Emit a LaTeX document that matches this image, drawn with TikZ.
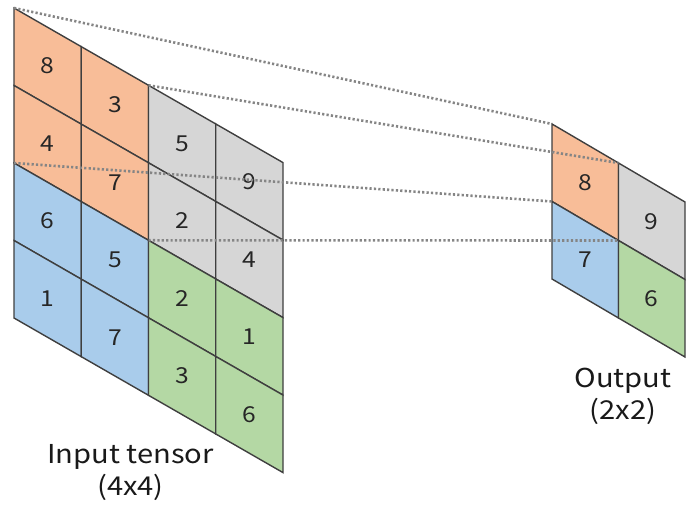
\documentclass[tikz,border=0pt]{standalone}
\usepackage{fontspec}
\setmainfont{Noto Sans CJK JP}[FakeStretch=1.12]
\definecolor{cOrange}{HTML}{F8BD98}
\definecolor{cGray}{HTML}{D6D6D6}
\definecolor{cBlue}{HTML}{A9CCEB}
\definecolor{cGreen}{HTML}{B4D8A4}
\definecolor{cLine}{HTML}{3F3F3F}
\definecolor{cDot}{HTML}{858585}
\tikzset{
  cellline/.style={draw=cLine, line width=1.4pt, line join=miter},
  digit/.style={font=\fontsize{22}{22}\selectfont, text=black!85, inner sep=0pt},
  guide/.style={draw=cDot, line width=2.6pt, dash pattern=on 2.2pt off 2.2pt},
  caption/.style={font=\fontsize{26}{32}\selectfont, align=center, text=black!90, inner sep=0pt}
}
\newcommand{\mpcell}[4]{%
  \fill[#3] (#1,#2) -- ++(1,0) -- ++(0,1) -- ++(-1,0) -- cycle;
  \draw[cellline] (#1,#2) -- ++(1,0) -- ++(0,1) -- ++(-1,0) -- cycle;
  \node[digit] at ($(#1,#2)+(0.5,0.5)$) {#4};
}
\usetikzlibrary{calc}
\begin{document}
\begin{tikzpicture}
\useasboundingbox (0pt,0pt) rectangle (686pt,-510pt);
% input tensor
\begin{scope}[shift={(14pt,-8pt)}, x={(67.25pt,-38.65pt)}, y={(0pt,-77.5pt)}]
  \mpcell{0}{0}{cOrange}{8}
  \mpcell{1}{0}{cOrange}{3}
  \mpcell{2}{0}{cGray}{5}
  \mpcell{3}{0}{cGray}{9}
  \mpcell{0}{1}{cOrange}{4}
  \mpcell{1}{1}{cOrange}{7}
  \mpcell{2}{1}{cGray}{2}
  \mpcell{3}{1}{cGray}{4}
  \mpcell{0}{2}{cBlue}{6}
  \mpcell{1}{2}{cBlue}{5}
  \mpcell{2}{2}{cGreen}{2}
  \mpcell{3}{2}{cGreen}{1}
  \mpcell{0}{3}{cBlue}{1}
  \mpcell{1}{3}{cBlue}{7}
  \mpcell{2}{3}{cGreen}{3}
  \mpcell{3}{3}{cGreen}{6}
  \coordinate (inA) at (0,0);
  \coordinate (inB) at (2,0);
  \coordinate (inC) at (0,2);
  \coordinate (inD) at (2,2);
\end{scope}
% output
\begin{scope}[shift={(552pt,-124pt)}, x={(66.5pt,-39pt)}, y={(0pt,-77.5pt)}]
  \mpcell{0}{0}{cOrange}{8}
  \mpcell{1}{0}{cGray}{9}
  \mpcell{0}{1}{cBlue}{7}
  \mpcell{1}{1}{cGreen}{6}
  \coordinate (outA) at (0,0);
  \coordinate (outB) at (1,0);
  \coordinate (outC) at (0,1);
  \coordinate (outD) at (1,1);
\end{scope}
% guide lines
\draw[guide] (inA) -- (outA);
\draw[guide] (inB) -- (outB);
\draw[guide] (inC) -- (outC);
\draw[guide] (inD) -- (outD);
% captions
\node[caption] (incap) at (130.5pt,-473pt) {Input tensor\\(4x4)};
\node[caption] (outcap) at (623pt,-396pt) {Output\\(2x2)};
\end{tikzpicture}
\end{document}
